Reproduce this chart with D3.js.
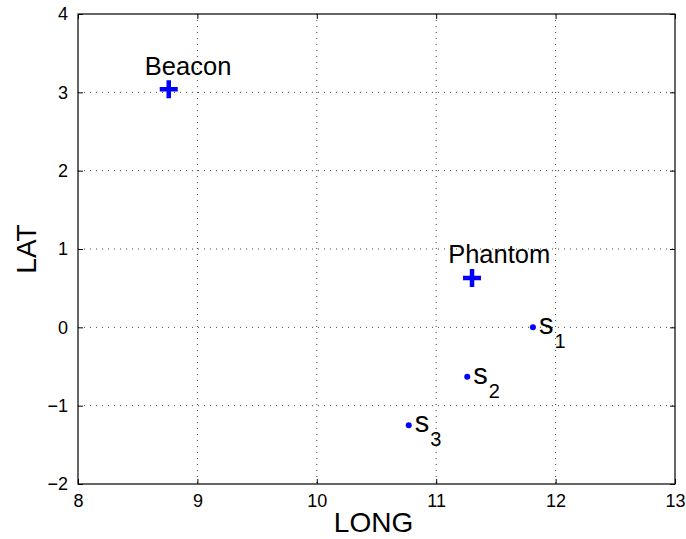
<!DOCTYPE html>
<html><head><meta charset="utf-8">
<script src="https://cdn.jsdelivr.net/npm/d3@7"></script>
<style>body{margin:0;background:#fff}svg{display:block}text{font-family:"Liberation Sans",Arial,sans-serif}</style>
</head><body><svg id="c" width="686" height="539"></svg>
<script>
const xTicks = [8, 9, 10, 11, 12, 13];
const yTicks = [-2, -1, 0, 1, 2, 3, 4];
const crossNames = ["Beacon", "Phantom"];
const crossX = [8.76, 11.30];
const crossY = [3.04, 0.63];
const sensorNames = ["1", "2", "3"];
const sensorX = [11.81, 11.26, 10.77];
const sensorY = [0.0, -0.63, -1.25];

const svg = d3.select("#c");
const L = 78, R = 675, T = 14, B = 484;
const x = d3.scaleLinear().domain([8, 13]).range([L, R]);
const y = d3.scaleLinear().domain([-2, 4]).range([B, T]);
const blue = "#0000ff";

// grid
const g = svg.append("g");
g.selectAll(".gx").data(xTicks.slice(1, -1)).enter().append("line")
  .attr("x1", d => x(d)).attr("x2", d => x(d)).attr("y1", T).attr("y2", B)
  .attr("stroke", "#444").attr("stroke-width", 1).attr("stroke-dasharray", "1,5");
g.selectAll(".gy").data(yTicks.slice(1, -1)).enter().append("line")
  .attr("y1", d => y(d)).attr("y2", d => y(d)).attr("x1", L).attr("x2", R)
  .attr("stroke", "#444").attr("stroke-width", 1).attr("stroke-dasharray", "1,5");

// axes with inward ticks
const fs = "18px";
const fmt = d => d < 0 ? "\u2212" + Math.abs(d) : String(d);
const ax = svg.append("g").attr("transform", `translate(0,${B})`)
  .call(d3.axisBottom(x).tickValues(xTicks).tickSizeInner(-5).tickSizeOuter(0).tickPadding(10).tickFormat(fmt));
const ax2 = svg.append("g").attr("transform", `translate(0,${T})`)
  .call(d3.axisTop(x).tickValues(xTicks).tickSizeInner(-5).tickSizeOuter(0).tickFormat(""));
const ay = svg.append("g").attr("transform", `translate(${L},0)`)
  .call(d3.axisLeft(y).tickValues(yTicks).tickSizeInner(-5).tickSizeOuter(0).tickPadding(10).tickFormat(fmt));
const ay2 = svg.append("g").attr("transform", `translate(${R},0)`)
  .call(d3.axisRight(y).tickValues(yTicks).tickSizeInner(-5).tickSizeOuter(0).tickFormat(""));
[ax, ax2, ay, ay2].forEach(a => {
  a.select(".domain").remove();
  a.selectAll("line").attr("stroke", "#000");
  a.selectAll("text").attr("font-size", fs).attr("fill", "#000")
    .attr("font-family", "'Liberation Sans',Arial,sans-serif");
});
ax.selectAll("text").attr("dy", "0.71em");
svg.append("rect").attr("x", L).attr("y", T).attr("width", R - L).attr("height", B - T)
  .attr("fill", "none").attr("stroke", "#000").attr("stroke-width", 1.2);

// axis titles
svg.append("text").attr("x", (L + R) / 2 - 3).attr("y", 532).attr("text-anchor", "middle")
  .attr("font-size", "28px").text("LONG");
svg.append("text").attr("transform", `translate(36,${(T + B) / 2}) rotate(-90)`)
  .attr("text-anchor", "middle").attr("font-size", "28px").text("LAT");

// crosses
const cs = 9;
crossNames.forEach((n, i) => {
  const cx = x(crossX[i]), cy = y(crossY[i]);
  svg.append("path").attr("d", `M${cx - cs},${cy}H${cx + cs}M${cx},${cy - cs}V${cy + cs}`)
    .attr("stroke", blue).attr("stroke-width", 4.5).attr("fill", "none");
  svg.append("text").attr("x", x(crossX[i] - 0.2)).attr("y", y(crossY[i] + 0.3))
    .attr("dy", "0.35em").attr("font-size", "25.5px").text(n);
});

// sensors
sensorNames.forEach((n, i) => {
  const cx = x(sensorX[i]), cy = y(sensorY[i]);
  svg.append("circle").attr("cx", cx).attr("cy", cy).attr("r", 3).attr("fill", blue);
  const t = svg.append("text").attr("x", cx + 6).attr("y", cy + 7).attr("font-size", "29px");
  t.append("tspan").text("s");
  t.append("tspan").attr("font-size", "20px").attr("dx", "1").attr("dy", "14").text(n);
});
</script></body></html>
